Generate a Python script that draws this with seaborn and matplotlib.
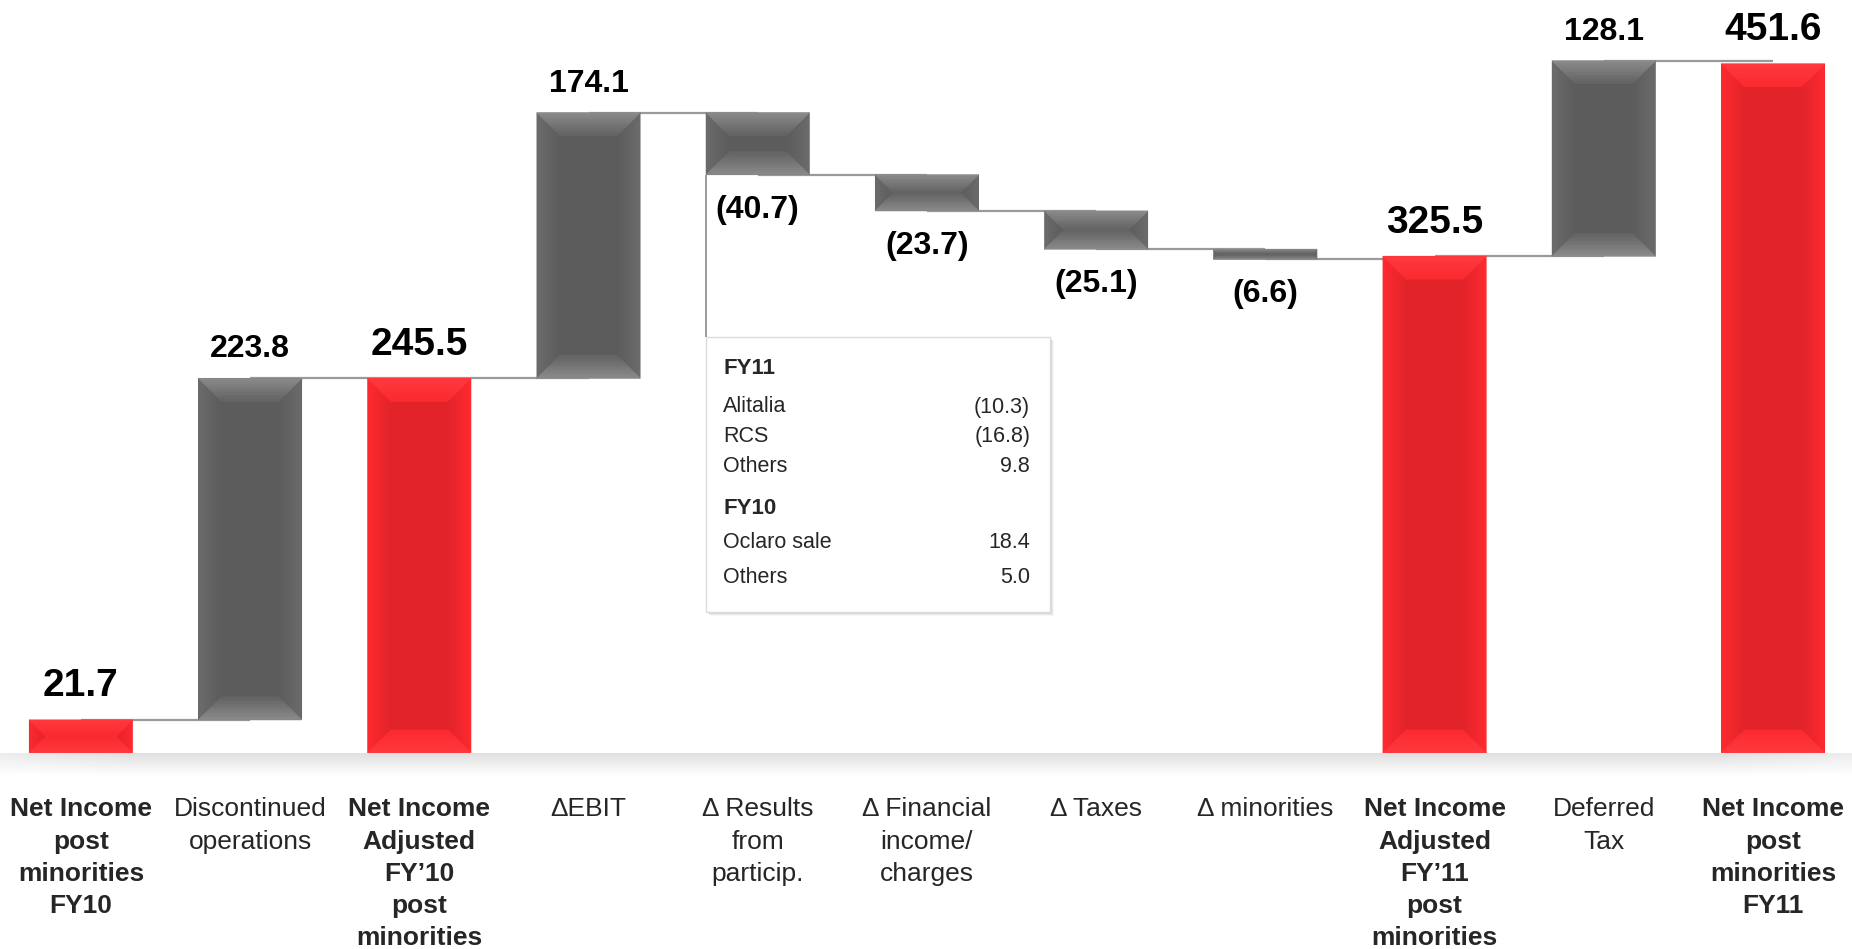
import numpy as np
import pandas as pd
import matplotlib.pyplot as plt
import seaborn as sns
from matplotlib.patches import Polygon, Rectangle
from matplotlib.colors import to_rgb

categories = ["Net Income\npost\nminorities\nFY10", "Discontinued\noperations",
              "Net Income\nAdjusted\nFY\u201910\npost\nminorities", "\u0394EBIT",
              "\u0394 Results\nfrom\nparticip.", "\u0394 Financial\nincome/\ncharges",
              "\u0394 Taxes", "\u0394 minorities",
              "Net Income\nAdjusted\nFY\u201911\npost\nminorities", "Deferred\nTax",
              "Net Income\npost\nminorities\nFY11"]
values = [21.7, 223.8, 245.5, 174.1, -40.7, -23.7, -25.1, -6.6, 325.5, 128.1, 451.6]
is_total = [True, False, True, False, False, False, False, False, True, False, True]

box_fy11_items = ["Alitalia", "RCS", "Others"]
box_fy11_values = ["(10.3)", "(16.8)", "9.8"]
box_fy10_items = ["Oclaro sale", "Others"]
box_fy10_values = ["18.4", "5.0"]

RED = "#e2242a"
GRAY = "#5c5c5c"

# waterfall geometry from the values
bottoms, heights, levels = [], [], []
run = 0.0
for v, t in zip(values, is_total):
    if t:
        bottoms.append(0.0)
        heights.append(v)
        run = v
    else:
        bottoms.append(min(run, run + v))
        heights.append(abs(v))
        run += v
    levels.append(run)
df = pd.DataFrame({"cat": categories, "height": heights, "bottom": bottoms})

sns.set_style("white")
plt.rcParams['font.family'] = ['Liberation Sans', 'DejaVu Sans']

W, H = 1852, 949
fig = plt.figure(figsize=(W / 100, H / 100), dpi=100)
base_px = 196
ax = fig.add_axes([0, base_px / H, 1, 1 - base_px / H])

sns.barplot(data=df, x="cat", y="height", bottom=df["bottom"].values, width=0.61,
            color=GRAY, saturation=1, ax=ax, linewidth=0, edgecolor="none")
for p, t in zip(ax.patches, is_total):
    p.set_facecolor(RED if t else GRAY)

ax.set_xlim(-0.478, 10.467)
ax.set_ylim(0, 493.4)
for s in ax.spines.values():
    s.set_visible(False)
ax.set_yticks([])
ax.set_xlabel("")
ax.set_ylabel("")
ax.tick_params(axis="x", length=0, pad=32, labelsize=19)
for lab, t in zip(ax.get_xticklabels(), is_total):
    lab.set_fontweight("bold" if t else "normal")
    lab.set_linespacing(1.43)

# connectors
xs = np.arange(len(values))
ax.hlines(levels[:-1], xs[:-1], xs[1:], color="#9a9a9a", lw=1.6, zorder=0.5)

# bevel look on bars
to_px = ax.transData.transform
to_data = ax.transData.inverted().transform


def mix(c1, c2, f):
    a, b = np.array(to_rgb(c1)), np.array(to_rgb(c2))
    return tuple(a * (1 - f) + b * f)


def strips(corner_fn, c_out, c_in, n=10, z=1.2):
    for k in range(n):
        f0, f1 = k / n, (k + 1) / n
        c = mix(c_out, c_in, (k + 0.5) / n)
        ax.add_patch(Polygon(to_data(np.array(corner_fn(f0, f1))), closed=True,
                             fc=c, ec=c, lw=0.5, zorder=z))


def bevel(p, base, tb_out, tb_in, side_out):
    x0, y0 = to_px((p.get_x(), p.get_y()))
    x1, y1 = to_px((p.get_x() + p.get_width(), p.get_y() + p.get_height()))
    b = min(23, (y1 - y0) / 2, (x1 - x0) / 2)
    # left / right sides fade from the edge into the face
    strips(lambda f0, f1: [(x0 + f0 * b, y0 + f0 * b), (x0 + f1 * b, y0 + f1 * b),
                           (x0 + f1 * b, y1 - f1 * b), (x0 + f0 * b, y1 - f0 * b)],
           side_out, base)
    strips(lambda f0, f1: [(x1 - f0 * b, y0 + f0 * b), (x1 - f1 * b, y0 + f1 * b),
                           (x1 - f1 * b, y1 - f1 * b), (x1 - f0 * b, y1 - f0 * b)],
           side_out, base)
    # top / bottom bevels
    strips(lambda f0, f1: [(x0 + f0 * b, y1 - f0 * b), (x1 - f0 * b, y1 - f0 * b),
                           (x1 - f1 * b, y1 - f1 * b), (x0 + f1 * b, y1 - f1 * b)],
           tb_out, tb_in, z=1.3)
    strips(lambda f0, f1: [(x0 + f0 * b, y0 + f0 * b), (x1 - f0 * b, y0 + f0 * b),
                           (x1 - f1 * b, y0 + f1 * b), (x0 + f1 * b, y0 + f1 * b)],
           tb_out, tb_in, z=1.3)


for p, t in zip(ax.patches[:len(values)], is_total):
    if t:
        bevel(p, RED, "#ff3a3e", "#fb2a2f", "#ff2a2f")
    else:
        bevel(p, GRAY, "#8c8c8c", "#636363", "#6c6c6c")

# value labels
for i, (v, t) in enumerate(zip(values, is_total)):
    txt = f"{v:.1f}" if v >= 0 else f"({abs(v):.1f})"
    size = 28 if t else 23
    if v >= 0:
        ax.annotate(txt, xy=(i, bottoms[i] + heights[i]), xytext=(0, 17 if t else 15),
                    textcoords="offset points", ha="center", va="baseline",
                    fontsize=size, fontweight="bold", color="black")
    else:
        ax.annotate(txt, xy=(i, bottoms[i]), xytext=(0, -14.5),
                    textcoords="offset points", ha="center", va="top",
                    fontsize=size, fontweight="bold", color="black")

# detail box for results from participations
p4 = ax.patches[4]
bx0 = p4.get_x()
bw = 2.03


def ypx(y_from_top):
    return to_data((0, H - y_from_top))[1]


box_top, box_bot = ypx(337), ypx(612)
ax.vlines(bx0, box_top, p4.get_y(), color="#9a9a9a", lw=1.4, zorder=0.5)
dx1 = 1 / 169.2
dy1 = ypx(0) - ypx(1)
for k, a in enumerate([0.06, 0.10, 0.16, 0.24]):
    off = 4 - k
    ax.add_patch(Rectangle((bx0 + off * dx1, box_bot - off * dy1), bw, box_top - box_bot,
                           fc="#7a7a7a", ec="none", alpha=a, zorder=2))
ax.add_patch(Rectangle((bx0, box_bot), bw, box_top - box_bot, fc="white",
                       ec="#dcdcdc", lw=1, zorder=2.1))

tx_l = bx0 + 17 / 169.2
tx_r = bx0 + 324 / 169.2
rows = [("FY11", "", True, 368)]
y = 407
for it, val in zip(box_fy11_items, box_fy11_values):
    rows.append((it, val, False, y))
    y += 29.5
rows.append(("FY10", "", True, 509))
y = 542
for it, val in zip(box_fy10_items, box_fy10_values):
    rows.append((it, val, False, y))
    y += 35.5
for name, val, bold, yy in rows:
    ax.text(tx_l, ypx(yy), name, ha="left", va="center", fontsize=16 if bold else 15.5,
            fontweight="bold" if bold else "normal", zorder=3)
    if val:
        ax.text(tx_r, ypx(yy), val, ha="right", va="center", fontsize=15.5, zorder=3)

# floor shadow under the baseline
sax = fig.add_axes([0, (base_px - 24) / H, 1, 24 / H])
grad = np.linspace(0.80, 1.0, 24) ** 0.6
edge = np.ones(200)
edge[:15] = np.linspace(0.6, 1, 15)
edge[-15:] = np.linspace(1, 0.6, 15)
img = 1 - (1 - grad[:, None]) * edge[None, :]
sax.imshow(img, cmap="gray", vmin=0, vmax=1, aspect="auto", interpolation="bilinear")
sax.axis("off")

fig.savefig("out.png", dpi=100)
